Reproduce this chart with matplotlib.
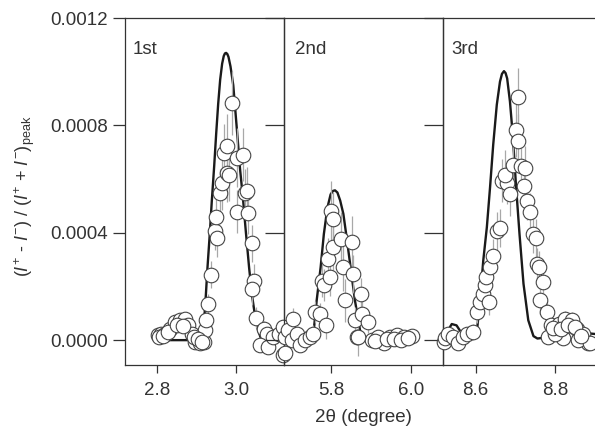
"""Dichroic asymmetry ratio around three Bragg peaks: measured points vs calculated profile."""
import matplotlib
matplotlib.use("Agg")
import matplotlib.pyplot as plt

plt.rcParams["font.family"] = ["Liberation Sans", "DejaVu Sans"]
plt.rcParams["mathtext.fontset"] = "custom"
plt.rcParams["mathtext.rm"] = "Liberation Sans"
plt.rcParams["mathtext.it"] = "Liberation Sans:italic"

TEXT = "#333333"

# --- 1st order ---------------------------------------------------------------
x1 = [2.802, 2.810, 2.821, 2.834, 2.846, 2.859, 2.871, 2.880, 2.888, 2.897,
      2.909, 2.918, 2.922, 2.924, 2.930, 2.937, 2.947, 2.953, 2.949, 2.960,
      2.964, 2.977, 2.983, 2.970, 2.978, 2.990, 3.003, 3.017, 3.023, 3.027,
      3.002, 3.031, 3.040, 3.045, 3.041, 3.050, 3.071, 3.077, 3.060, 3.081,
      3.094, 3.109, 3.119, 3.118, 2.806, 2.815, 2.828, 2.852, 2.866, 2.893,
      2.903, 2.913]
y1 = [0.0000185, 0.0000247, 0.0000247, 0.0000432, 0.0000679, 0.0000741, 0.0000802,
      0.0000556, 0.0000247, -0.0000062, -0.0000123, -0.0000062, 0.000037, 0.000074,
      0.000133, 0.000244, 0.000407, 0.000380, 0.000457, 0.000549, 0.000586, 0.000623,
      0.000617, 0.000697, 0.000722, 0.000883, 0.000679, 0.000691, 0.000549, 0.000556,
      0.000479, 0.000475, 0.000360, 0.000222, 0.000191, 0.000084, 0.000043, 0.0000247,
      -0.0000185, -0.0000247, 0.0000123, 0.0000247, 0.0000494, -0.000055, 0.000010,
      0.000015, 0.000032, 0.000058, 0.000052, 0.000012, 0.000004, -0.000008]
e1 = [0.00001, 0.00001, 0.00001, 0.00002, 0.00002, 0.00002, 0.00002, 0.00002, 0.00002, 0.00002,
      0.00002, 0.00002, 0.00003, 0.00003, 0.00004, 0.00005, 0.00007, 0.00007, 0.00008, 0.00009,
      0.00010, 0.00011, 0.00010, 0.00011, 0.00012, 0.00012, 0.00011, 0.00010, 0.00009, 0.00009,
      0.00008, 0.00008, 0.00007, 0.00006, 0.00006, 0.00004, 0.00003, 0.00002, 0.00002, 0.00002,
      0.00002, 0.00002, 0.00002, 0.00002, 0.00001, 0.00001, 0.00002, 0.00002, 0.00002, 0.00002,
      0.00002, 0.00002]
c1_x = [2.80, 2.90, 2.910, 2.916, 2.922, 2.928, 2.934, 2.939, 2.945, 2.950, 2.955,
        2.960, 2.965, 2.969, 2.972, 2.975, 2.978, 2.981, 2.986, 2.993, 2.998, 3.003,
        3.010, 3.018, 3.025, 3.033, 3.040, 3.048, 3.055, 3.062, 3.075, 3.12]
c1_y = [0.0, 0.0, 0.000008, 0.000025, 0.00012, 0.00027, 0.00040, 0.00052, 0.00065,
        0.00077, 0.00088, 0.00097, 0.00103, 0.001058, 0.001068, 0.00107, 0.001066,
        0.001055, 0.00102, 0.00095, 0.00086, 0.00077, 0.00064, 0.00052, 0.00040, 0.00027,
        0.00017, 0.00009, 0.00004, 0.00001, 0.0, 0.0]

# --- 2nd order ---------------------------------------------------------------
x2 = [5.684, 5.693, 5.705, 5.701, 5.714, 5.722, 5.735, 5.747, 5.756, 5.760,
      5.772, 5.787, 5.777, 5.782, 5.797, 5.793, 5.799, 5.806, 5.804, 5.824,
      5.852, 5.831, 5.835, 5.856, 5.875, 5.860, 5.877, 5.894, 5.866, 5.902,
      5.919, 5.933, 5.948, 5.965, 5.983, 6.002, 5.685, 5.867, 5.910, 5.940,
      5.958, 5.975, 5.992]
y2 = [0.0000123, 0.000037, 0.000080, 0.0, 0.0000247, -0.0000185, 0.0, 0.0000123,
      0.0000247, 0.000105, 0.0000988, 0.0000556, 0.000222, 0.000204, 0.000235, 0.000302,
      0.000481, 0.000451, 0.000346, 0.000377, 0.000364, 0.000272, 0.000148, 0.000247,
      0.000173, 0.000074, 0.0000988, 0.0000679, 0.0000123, 0.0, 0.0000123, -0.0000123,
      0.0000123, 0.0000185, 0.0000123, 0.0000148, -0.0000494, 0.0000123, -0.000004,
      0.000004, 0.000006, 0.000002, 0.000009]
e2 = [0.00002, 0.00003, 0.00004, 0.00002, 0.00002, 0.00002, 0.00003, 0.00003, 0.00003, 0.00004,
      0.00004, 0.00005, 0.00006, 0.00006, 0.00007, 0.00008, 0.00011, 0.00010, 0.00009, 0.00010,
      0.00010, 0.00009, 0.00008, 0.00007, 0.00006, 0.00005, 0.00005, 0.00004, 0.00003, 0.00002,
      0.00002, 0.00002, 0.00002, 0.00002, 0.00002, 0.00002, 0.00002, 0.00007, 0.00002, 0.00002,
      0.00002, 0.00002, 0.00002]
c2_x = [5.690, 5.745, 5.756, 5.764, 5.774, 5.782, 5.791, 5.799, 5.805, 5.810, 5.816,
        5.823, 5.831, 5.838, 5.849, 5.860, 5.873, 5.890, 5.905, 5.990]
c2_y = [0.0, 0.0, 0.000025, 0.000148, 0.000272, 0.000395, 0.000494, 0.000543, 0.000556,
        0.000558, 0.000550, 0.000520, 0.000470, 0.000395, 0.000272, 0.000148, 0.000035,
        0.000005, 0.0, 0.0]

# --- 3rd order ---------------------------------------------------------------
x3 = [8.520, 8.523, 8.531, 8.544, 8.556, 8.569, 8.579, 8.594, 8.603, 8.611,
      8.619, 8.623, 8.634, 8.626, 8.636, 8.643, 8.653, 8.661, 8.665, 8.679,
      8.686, 8.674, 8.693, 8.713, 8.724, 8.728, 8.736, 8.721, 8.701, 8.707,
      8.705, 8.745, 8.752, 8.755, 8.760, 8.770, 8.762, 8.778, 8.788, 8.808,
      8.824, 8.841, 8.854, 8.870, 8.883, 8.820, 8.782, 8.799, 8.858, 8.887,
      8.795, 8.815, 8.832, 8.848, 8.865]
y3 = [-0.0000062, 0.0000062, 0.0000247, 0.0000123, -0.0000123, 0.0000123, 0.0000247,
      0.0000309, 0.000105, 0.000142, 0.000173, 0.000204, 0.000142, 0.000235, 0.000272,
      0.000315, 0.000407, 0.000417, 0.000593, 0.000586, 0.000543, 0.000617, 0.000652,
      0.000648, 0.000642, 0.000519, 0.000479, 0.000574, 0.000784, 0.000741, 0.000904,
      0.000395, 0.000380, 0.000284, 0.000272, 0.000216, 0.000148, 0.000105, 0.0000556,
      0.0000617, 0.0000802, 0.0000741, 0.0000432, 0.0000247, -0.0000123, 0.0000062,
      0.0000123, 0.0000247, 0.0, -0.0000123, 0.000045, 0.000040, 0.000055, 0.000050,
      0.000015]
e3 = [0.00002, 0.00002, 0.00002, 0.00002, 0.00002, 0.00002, 0.00002, 0.00003, 0.00004, 0.00004,
      0.00005, 0.00005, 0.00005, 0.00006, 0.00006, 0.00006, 0.00007, 0.00007, 0.00008, 0.00008,
      0.00008, 0.00009, 0.00009, 0.00008, 0.00008, 0.00007, 0.00007, 0.00008, 0.00010, 0.00010,
      0.00011, 0.00007, 0.00007, 0.00006, 0.00006, 0.00005, 0.00005, 0.00004, 0.00003, 0.00003,
      0.00003, 0.00003, 0.00002, 0.00002, 0.00002, 0.00002, 0.00002, 0.00002, 0.00002, 0.00002,
      0.00002, 0.00002, 0.00002, 0.00002, 0.00002]
c3_x = [8.518, 8.530, 8.540, 8.552, 8.565, 8.586, 8.6025, 8.611, 8.619, 8.628, 8.636,
        8.644, 8.653, 8.661, 8.666, 8.671, 8.675, 8.679, 8.686, 8.693, 8.701, 8.710,
        8.720, 8.732, 8.745, 8.755, 8.765, 8.778, 8.800, 8.850, 8.92]
c3_y = [0.0, 0.000035, 0.000060, 0.000055, 0.000025, 0.0000123, 0.0000247, 0.000148,
        0.000296, 0.000420, 0.000568, 0.000728, 0.000877, 0.000963, 0.000992, 0.001002,
        0.000995, 0.000975, 0.000889, 0.000765, 0.000580, 0.000395, 0.000210, 0.000074,
        0.000015, 0.000006, 0.000008, 0.000018, 0.000028, 0.000030, 0.000020]

panels = [
    ("1st", x1, y1, e1, c1_x, c1_y, (2.72, 3.121), [2.8, 3.0]),
    ("2nd", x2, y2, e2, c2_x, c2_y, (5.682, 6.081), [5.8, 6.0]),
    ("3rd", x3, y3, e3, c3_x, c3_y, (8.518, 8.917), [8.6, 8.8]),
]
yticks = [0.0, 0.0004, 0.0008, 0.0012]

fig = plt.figure(figsize=(5.95, 4.32), dpi=100)
left, bottom, w, h = 125 / 595, 67 / 432, 159 / 595, 347 / 432

for i, (label, xs, ys, es, cx, cy, xlim, xt) in enumerate(panels):
    ax = fig.add_axes([left + i * w, bottom, w, h])
    ax.plot(cx, cy, color="#1a1a1a", lw=1.7, zorder=2, solid_joinstyle="round")
    _, caps, bars = ax.errorbar(xs, ys, yerr=es, fmt="none", ecolor="#a8a8a8",
                                elinewidth=0.9, capsize=0, zorder=3)
    for b in bars:
        b.set_clip_on(False)
    ax.plot(xs, ys, "o", ms=10.5, mfc="white", mec="#444444", mew=0.8,
            zorder=4, clip_on=False)

    ax.set_xlim(*xlim)
    ax.set_ylim(-0.0000926, 0.0012)
    ax.set_xticks(xt)
    ax.set_xticklabels([f"{v:.1f}" for v in xt])
    ax.set_yticks(yticks)
    ax.tick_params(axis="x", direction="out", length=6, width=0.9,
                   colors=TEXT, labelsize=13.5, pad=6)
    if i == 0:
        ax.set_yticklabels([f"{v:.4f}" for v in yticks])
        ax.tick_params(axis="y", direction="out", length=9, width=0.9,
                       colors=TEXT, labelsize=13.5, pad=3)
    else:
        ax.set_yticklabels([])
        ax.tick_params(axis="y", direction="out", length=13.5, width=0.9,
                       colors=TEXT)
    for s in ax.spines.values():
        s.set_color(TEXT)
        s.set_linewidth(0.9)
    ax.text(0.05 if i != 1 else 0.07, 0.935, label, transform=ax.transAxes,
            fontsize=13.5, color=TEXT, va="top", ha="left")
    ax.patch.set_alpha(0)

fig.text(left + 1.5 * w, 14 / 432, "2θ (degree)", ha="center",
         va="center", fontsize=13.5, color=TEXT)
fig.text(25 / 595, bottom + h / 2 - 0.01,
         r"($I^{+}$ - $I^{-}$) / ($I^{+}$ + $I^{-}$)$_{\mathrm{peak}}$",
         rotation=90, ha="center", va="center", fontsize=13, color=TEXT)

fig.savefig("out.png", dpi=100)
